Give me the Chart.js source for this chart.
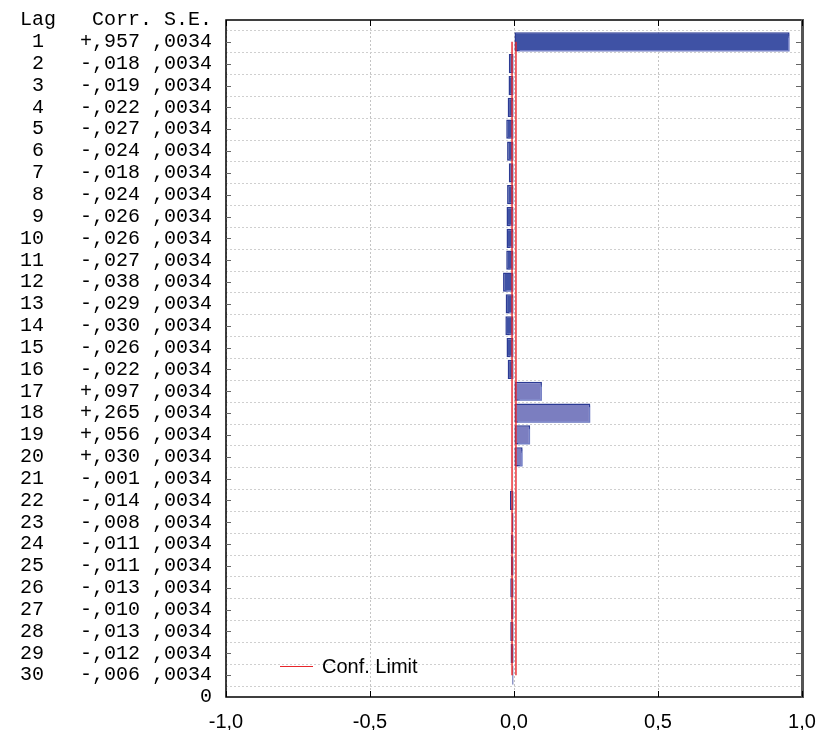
<!DOCTYPE html>
<html>
<head>
<meta charset="utf-8">
<script src="https://cdn.jsdelivr.net/npm/chart.js@4/dist/chart.umd.min.js"></script>
<style>
  html, body { margin: 0; padding: 0; background: #fff; }
  #wrap { position: relative; width: 821px; height: 730px; }
  #legend { position: absolute; left: 280px; top: 653px; height: 26px; display: flex; align-items: center;
            font: 20px "Liberation Sans", Arial, sans-serif; color: #000; }
  #legend span.line { display: inline-block; width: 33px; height: 1px; background: #e8262b; margin-right: 9px; }
</style>
</head>
<body>
<div id="wrap">
  <canvas id="acf" width="821" height="730"></canvas>
  <div id="legend"><span class="line"></span>Conf. Limit</div>
</div>
<script>
// autocorrelation by lag
const lags = [1, 2, 3, 4, 5, 6, 7, 8, 9, 10, 11, 12, 13, 14, 15,
              16, 17, 18, 19, 20, 21, 22, 23, 24, 25, 26, 27, 28, 29, 30];
const corr = [0.957, -0.018, -0.019, -0.022, -0.027, -0.024, -0.018, -0.024, -0.026, -0.026,
              -0.027, -0.038, -0.029, -0.030, -0.026, -0.022, 0.097, 0.265, 0.056, 0.030,
              -0.001, -0.014, -0.008, -0.011, -0.011, -0.013, -0.010, -0.013, -0.012, -0.006];
const stdErr = [0.0034, 0.0034, 0.0034, 0.0034, 0.0034, 0.0034, 0.0034, 0.0034, 0.0034, 0.0034,
                0.0034, 0.0034, 0.0034, 0.0034, 0.0034, 0.0034, 0.0034, 0.0034, 0.0034, 0.0034,
                0.0034, 0.0034, 0.0034, 0.0034, 0.0034, 0.0034, 0.0034, 0.0034, 0.0034, 0.0034];
const xTicks = [-1.0, -0.5, 0.0, 0.5, 1.0];

// formatting like ",957" with sign
function fmtCorr(v) {
    const s = Math.abs(v).toFixed(3).replace(/^0\./, ',');
    return (v >= 0 ? '+' : '-') + s;
}
function fmtSE(v) {
    return v.toFixed(4).replace(/^0\./, ',');
}
function lagLabel(i) {
    const lag = String(lags[i]).padStart(2, ' ');
    return lag + '   ' + fmtCorr(corr[i]) + ' ' + fmtSE(stdErr[i]);
}

const darkFill = '#3f52a5';
const lightFill = '#7b7ec0';
const barBorder = '#2c3b94';

// first 16 lags darker, the rest lighter (as in the picture)
const fills = lags.map(l => l <= 16 ? darkFill : lightFill);

// frame + small inner ticks
const framePlugin = {
    id: 'frame',
    afterDraw(chart) {
        const { ctx, chartArea: a, scales } = chart;
        ctx.save();
        ctx.strokeStyle = '#000';
        ctx.lineWidth = 1.5;
        ctx.beginPath();
        ctx.moveTo(a.right, a.top); ctx.lineTo(a.left, a.top);
        ctx.lineTo(a.left, a.bottom); ctx.lineTo(a.right, a.bottom);
        ctx.stroke();
        ctx.strokeStyle = '#555';
        ctx.lineWidth = 3;
        ctx.beginPath();
        ctx.moveTo(a.right + 0.5, a.top - 1); ctx.lineTo(a.right + 0.5, a.bottom + 1);
        ctx.stroke();
        ctx.strokeStyle = '#000';
        ctx.lineWidth = 1;
        xTicks.forEach(t => {
            const x = Math.round(scales.x.getPixelForValue(t)) + 0.5;
            ctx.beginPath();
            ctx.moveTo(x, a.top); ctx.lineTo(x, a.top + 6);
            ctx.moveTo(x, a.bottom); ctx.lineTo(x, a.bottom - 6);
            ctx.stroke();
        });
        ctx.strokeStyle = '#666';
        lags.forEach(l => {
            const y = Math.round(scales.y.getPixelForValue(l)) + 0.5;
            ctx.beginPath();
            ctx.moveTo(a.left, y); ctx.lineTo(a.left + 5, y);
            ctx.moveTo(a.right - 1, y); ctx.lineTo(a.right - 6, y);
            ctx.stroke();
        });
        ctx.restore();
    }
};

// soft shadow behind the bars
const shadowPlugin = {
    id: 'barShadow',
    beforeDatasetDraw(chart, args) {
        if (args.meta.type !== 'bar') return;
        const ctx = chart.ctx;
        ctx.save();
        ctx.shadowColor = 'rgba(150,160,220,0.7)';
        ctx.shadowOffsetX = 2;
        ctx.shadowOffsetY = 2;
        ctx.shadowBlur = 1;
    },
    afterDatasetDraw(chart, args) {
        if (args.meta.type !== 'bar') return;
        chart.ctx.restore();
    }
};

new Chart(document.getElementById('acf').getContext('2d'), {
    data: {
        datasets: [
            {
                type: 'bar',
                label: 'Corr.',
                data: lags.map((l, i) => ({ x: corr[i], y: l })),
                backgroundColor: fills,
                borderColor: barBorder,
                borderWidth: 1.5,
                borderSkipped: false,
                categoryPercentage: 1,
                barPercentage: 0.88,
                order: 2
            },
            {
                type: 'line',
                label: 'Conf. Limit',
                data: lags.map((l, i) => ({ x: 2 * stdErr[i], y: l })),
                borderColor: '#e8262b',
                borderWidth: 1.4,
                pointRadius: 0,
                fill: false,
                order: 1
            },
            {
                type: 'line',
                label: 'Conf. Limit low',
                data: lags.map((l, i) => ({ x: -2 * stdErr[i], y: l })),
                borderColor: '#e8262b',
                borderWidth: 1.4,
                pointRadius: 0,
                fill: false,
                order: 1
            }
        ]
    },
    options: {
        indexAxis: 'y',
        responsive: false,
        animation: false,
        layout: { padding: { top: 20, right: 19, left: 0, bottom: 0 } },
        plugins: {
            legend: { display: false },
            tooltip: { enabled: false }
        },
        scales: {
            x: {
                type: 'linear',
                min: -1,
                max: 1,
                afterBuildTicks(scale) { scale.ticks = xTicks.map(v => ({ value: v })); },
                ticks: {
                    callback: v => v.toFixed(1).replace('.', ','),
                    font: { family: '"Liberation Sans", Arial, sans-serif', size: 20 },
                    color: '#000',
                    padding: 13,
                    maxRotation: 0
                },
                grid: { color: '#c4c4c4', drawTicks: false, lineWidth: 1 },
                border: { display: false, dash: [2, 2] },
                afterFit(scale) {
                    scale.height = 33;
                    scale.paddingLeft = 0;
                    scale.paddingRight = 0;
                }
            },
            y: {
                type: 'linear',
                reverse: true,
                offset: false,
                min: 0,
                max: 31,
                afterBuildTicks(scale) {
                    const t = [];
                    for (let v = 0; v <= 31; v++) t.push({ value: v });
                    scale.ticks = t;
                },
                ticks: {
                    autoSkip: false,
                    callback: v => {
                        if (v === 0) return 'Lag   Corr. S.E.';
                        if (v === 31) return '0';
                        return lagLabel(v - 1);
                    },
                    font: { family: '"Liberation Mono", "Courier New", monospace', size: 20, lineHeight: 1 },
                    color: '#000',
                    padding: 14
                },
                grid: { color: '#cfcfcf', drawTicks: false, lineWidth: 1 },
                border: { display: false, dash: [2, 2] },
                afterFit(scale) {
                    scale.width = 226;
                    scale.paddingTop = 0;
                    scale.paddingBottom = 0;
                }
            }
        }
    },
    plugins: [shadowPlugin, framePlugin]
});
</script>
</body>
</html>
